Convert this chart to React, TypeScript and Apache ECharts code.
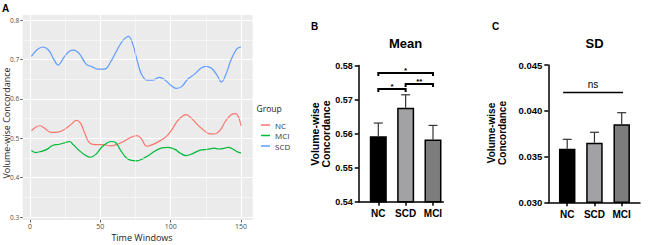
import React, { useEffect, useRef } from "react";
import * as echarts from "echarts";

// ---------- Panel A data (time windows) ----------
const ncPoints: [number, number][] = [[1,0.519],[4,0.528],[7,0.532],[11,0.524],[15,0.515],[20,0.516],[25,0.524],[30,0.538],[33,0.546],[36,0.538],[39,0.512],[42,0.490],[46,0.484],[52,0.484],[57,0.481],[62,0.485],[67,0.493],[72,0.503],[76,0.507],[79,0.500],[83,0.480],[87,0.484],[92,0.493],[97,0.505],[101,0.523],[105,0.545],[109,0.558],[111,0.560],[115,0.550],[119,0.535],[123,0.522],[127,0.512],[131,0.511],[135,0.520],[139,0.544],[143,0.560],[146,0.563],[148,0.556],[150,0.532]];
const mciPoints: [number, number][] = [[1,0.469],[4,0.464],[8,0.467],[12,0.472],[16,0.482],[21,0.485],[25,0.489],[28,0.492],[31,0.483],[35,0.469],[39,0.458],[43,0.452],[47,0.460],[51,0.478],[55,0.489],[58,0.492],[61,0.489],[64,0.472],[68,0.452],[72,0.444],[76,0.443],[80,0.448],[84,0.456],[89,0.468],[94,0.476],[98,0.477],[103,0.472],[107,0.462],[111,0.456],[116,0.462],[121,0.470],[126,0.472],[131,0.475],[134,0.473],[137,0.474],[141,0.477],[145,0.471],[148,0.465],[150,0.463]];
const scdPoints: [number, number][] = [[1,0.708],[5,0.725],[9,0.732],[13,0.725],[17,0.700],[20,0.686],[24,0.705],[28,0.721],[31,0.724],[35,0.715],[40,0.688],[44,0.682],[48,0.676],[53,0.676],[57,0.692],[62,0.725],[66,0.748],[70,0.759],[73,0.740],[76,0.700],[79,0.665],[83,0.648],[87,0.648],[92,0.655],[96,0.648],[100,0.635],[104,0.627],[108,0.632],[112,0.650],[117,0.663],[121,0.677],[125,0.683],[129,0.678],[133,0.660],[136,0.643],[139,0.660],[143,0.700],[147,0.727],[150,0.732]];
const aYTicks = [0.3, 0.4, 0.5, 0.6, 0.7, 0.8];
const aYMinor = [0.35, 0.45, 0.55, 0.65, 0.75];
const aXTicks = [0, 50, 100, 150];
const aXMinor = [25, 75, 125];

// ---------- Panels B / C data ----------
const groups = ["NC", "SCD", "MCI"];
const groupColors = ["#000000", "#a2a2a4", "#7c7c7c"];
const meanValues = [0.5592, 0.5676, 0.5583];
const meanErrTop = [0.5631, 0.5714, 0.5624];
const sdValues = [0.03586, 0.03651, 0.03852];
const sdErrTop = [0.03688, 0.03765, 0.03979];
// [from group, to group, height, label]
const meanBrackets: [number, number, number, string][] = [[0, 2, 0.5778, "*"], [0, 1, 0.5731, "*"], [1, 2, 0.5746, "**"]];
const sdBrackets: [number, number, number, string][] = [[-0.15, 2.05, 0.0420, "ns"]];

const ARIAL = "Liberation Sans, Arial, sans-serif";
const GG = "Open Sans, Noto Sans, sans-serif";

function errRender(params: any, api: any) {
  const x = api.value(0);
  const p1 = api.coord([x, api.value(1)]);
  const p2 = api.coord([x, api.value(2)]);
  const st = { stroke: "#333", lineWidth: 1.2 };
  return {
    type: "group",
    children: [
      { type: "line", shape: { x1: p1[0], y1: p1[1], x2: p2[0], y2: p2[1] }, style: st },
      { type: "line", shape: { x1: p2[0] - 4.5, y1: p2[1], x2: p2[0] + 4.5, y2: p2[1] }, style: st },
    ],
  };
}

function bracketRender(drop: number, font: string, lw: number, gap: number) {
  return (params: any, api: any) => {
    const a = api.coord([api.value(0), api.value(2)]);
    const b = api.coord([api.value(1), api.value(2)]);
    return {
      type: "group",
      children: [
        {
          type: "polyline",
          shape: { points: [[a[0], a[1] + drop], [a[0], a[1]], [b[0], b[1]], [b[0], b[1] + drop]] },
          style: { stroke: "#000", lineWidth: lw, fill: null },
        },
        {
          type: "text",
          style: { text: api.value(3), x: (a[0] + b[0]) / 2, y: a[1] - gap, textAlign: "center", textVerticalAlign: "bottom", font, fill: "#000" },
        },
      ],
    };
  };
}

export default function App() {
  const ref = useRef<HTMLDivElement>(null);
  useEffect(() => {
    document.body.style.margin = "0";
    const chart = echarts.init(ref.current!, null, { renderer: "svg" });
    const barAxisCommon = {
      axisLine: { onZero: false, lineStyle: { color: "#000", width: 1.5 } },
      axisTick: { length: 4, lineStyle: { color: "#000", width: 1.5 } },
      splitLine: { show: false },
    };
    const option: any = {
      animation: false,
      backgroundColor: "#ffffff",
      legend: {
        data: ["NC", "MCI", "SCD"],
        orient: "vertical",
        left: 256,
        top: 115,
        icon: "rect",
        itemWidth: 9,
        itemHeight: 1.5,
        itemGap: 0.5,
        selectedMode: false,
        textStyle: { fontSize: 8, color: "#333", fontFamily: GG, lineHeight: 10 },
      },
      grid: [
        { left: 22.7, top: 15, width: 230, height: 205, show: true, backgroundColor: "#EBEBEB", borderWidth: 0 },
        { left: 358.7, top: 65.5, width: 84.6, height: 136.2 },
        { left: 548.3, top: 65, width: 91.7, height: 137.3 },
      ],
      xAxis: [
        {
          gridIndex: 0, type: "value", min: -5.2, max: 158.3,
          axisLine: { show: false, onZero: false },
          axisTick: { show: true, customValues: aXTicks, length: 2.5, lineStyle: { color: "#333", width: 0.8 } },
          axisLabel: { customValues: aXTicks, fontSize: 7, color: "#4D4D4D", margin: 3, fontFamily: GG },
          splitLine: { show: true, lineStyle: { color: "#ffffff", width: 1 } },
        },
        {
          gridIndex: 1, type: "value", min: -0.717, max: 2.377, ...barAxisCommon,
          axisTick: { ...barAxisCommon.axisTick, customValues: [0, 1, 2] },
          axisLabel: { customValues: [0, 1, 2], formatter: (v: number) => groups[Math.round(v)], fontSize: 10, fontWeight: "bold", color: "#000", fontFamily: ARIAL, margin: 7 },
        },
        {
          gridIndex: 2, type: "value", min: -0.694, max: 2.672, ...barAxisCommon,
          axisTick: { ...barAxisCommon.axisTick, customValues: [0, 1, 2] },
          axisLabel: { customValues: [0, 1, 2], formatter: (v: number) => groups[Math.round(v)], fontSize: 10, fontWeight: "bold", color: "#000", fontFamily: ARIAL, margin: 7 },
        },
      ],
      yAxis: [
        {
          gridIndex: 0, type: "value", min: 0.2927, max: 0.8132,
          axisLine: { show: false, onZero: false },
          axisTick: { show: true, customValues: aYTicks, length: 2.5, lineStyle: { color: "#333", width: 0.8 } },
          axisLabel: { customValues: aYTicks, formatter: (v: number) => v.toFixed(1), fontSize: 6.5, color: "#4D4D4D", margin: 3.5, fontFamily: GG },
          splitLine: { show: true, lineStyle: { color: "#ffffff", width: 1 } },
        },
        {
          gridIndex: 1, type: "value", min: 0.54, max: 0.58, interval: 0.01, ...barAxisCommon,
          axisLabel: { formatter: (v: number) => v.toFixed(2), fontSize: 9, fontWeight: "bold", color: "#000", fontFamily: ARIAL, margin: 6 },
        },
        {
          gridIndex: 2, type: "value", min: 0.03, max: 0.045, interval: 0.005, ...barAxisCommon,
          axisLabel: { formatter: (v: number) => v.toFixed(3), fontSize: 9.5, fontWeight: "bold", color: "#000", fontFamily: ARIAL, margin: 6 },
        },
      ],
      series: [
        {
          name: "NC", type: "line", xAxisIndex: 0, yAxisIndex: 0, data: ncPoints, smooth: 0.4, symbol: "none",
          lineStyle: { color: "#F8766D", width: 1.2 }, itemStyle: { color: "#F8766D" },
          markLine: {
            silent: true, symbol: "none", label: { show: false },
            lineStyle: { color: "#ffffff", width: 0.5, type: "solid" },
            data: [...aYMinor.map((v) => ({ yAxis: v })), ...aXMinor.map((v) => ({ xAxis: v }))],
          },
          z: 3,
        },
        { name: "MCI", type: "line", xAxisIndex: 0, yAxisIndex: 0, data: mciPoints, smooth: 0.4, symbol: "none", lineStyle: { color: "#00BA38", width: 1.2 }, itemStyle: { color: "#00BA38" }, z: 3 },
        { name: "SCD", type: "line", xAxisIndex: 0, yAxisIndex: 0, data: scdPoints, smooth: 0.4, symbol: "none", lineStyle: { color: "#619CFF", width: 1.2 }, itemStyle: { color: "#619CFF" }, z: 3 },
        {
          type: "bar", xAxisIndex: 1, yAxisIndex: 1, barWidth: 17,
          data: meanValues.map((v, i) => ({ value: [i, v], itemStyle: { color: groupColors[i], borderColor: "#000", borderWidth: 1.5 } })),
        },
        {
          type: "custom", xAxisIndex: 1, yAxisIndex: 1, renderItem: errRender, z: 1,
          data: meanValues.map((v, i) => [i, v, meanErrTop[i]]),
        },
        {
          type: "custom", xAxisIndex: 1, yAxisIndex: 1, clip: false, renderItem: bracketRender(3, "bold 8px " + ARIAL, 2, -1.5),
          data: meanBrackets,
        },
        {
          type: "bar", xAxisIndex: 2, yAxisIndex: 2, barWidth: 16.5,
          data: sdValues.map((v, i) => ({ value: [i, v], itemStyle: { color: groupColors[i], borderColor: "#000", borderWidth: 1.5 } })),
        },
        {
          type: "custom", xAxisIndex: 2, yAxisIndex: 2, renderItem: errRender, z: 1,
          data: sdValues.map((v, i) => [i, v, sdErrTop[i]]),
        },
        {
          type: "custom", xAxisIndex: 2, yAxisIndex: 2, clip: false, renderItem: bracketRender(0, "10px " + ARIAL, 1.5, 3),
          data: sdBrackets,
        },
      ],
      graphic: [
        { type: "text", style: { text: "A", x: 2, y: 8, textVerticalAlign: "middle", font: "bold 10px " + ARIAL, fill: "#000" } },
        { type: "text", style: { text: "B", x: 311, y: 26, textVerticalAlign: "middle", font: "bold 10px " + ARIAL, fill: "#000" } },
        { type: "text", style: { text: "C", x: 492, y: 26, textVerticalAlign: "middle", font: "bold 10px " + ARIAL, fill: "#000" } },
        { type: "text", style: { text: "Mean", x: 405.5, y: 43, textAlign: "center", textVerticalAlign: "middle", font: "bold 13px " + ARIAL, fill: "#000" } },
        { type: "text", style: { text: "SD", x: 594.5, y: 43, textAlign: "center", textVerticalAlign: "middle", font: "bold 13px " + ARIAL, fill: "#000" } },
        { type: "text", rotation: Math.PI / 2, x: 6, y: 123, style: { text: "Volume-wise Concordance", x: 0, y: 0, textAlign: "center", textVerticalAlign: "middle", font: "9px " + GG, fill: "#222" } },
        { type: "text", style: { text: "Time Windows", x: 142, y: 237.5, textAlign: "center", textVerticalAlign: "middle", font: "9px " + GG, fill: "#222" } },
        { type: "text", style: { text: "Group", x: 256.5, y: 108.5, textVerticalAlign: "middle", font: "8.5px " + GG, fill: "#222" } },
        { type: "text", rotation: Math.PI / 2, x: 320, y: 134, style: { text: "Volume-wise\nConcordance", x: 0, y: 0, textAlign: "center", textVerticalAlign: "middle", lineHeight: 11, font: "bold 10.5px " + ARIAL, fill: "#000" } },
        { type: "text", rotation: Math.PI / 2, x: 497, y: 133, style: { text: "Volume-wise\nConcordance", x: 0, y: 0, textAlign: "center", textVerticalAlign: "middle", lineHeight: 10.5, font: "bold 10px " + ARIAL, fill: "#000" } },
      ],
    };
    chart.setOption(option);
    return () => chart.dispose();
  }, []);
  return <div ref={ref} style={{ width: 669, height: 245 }} />;
}
